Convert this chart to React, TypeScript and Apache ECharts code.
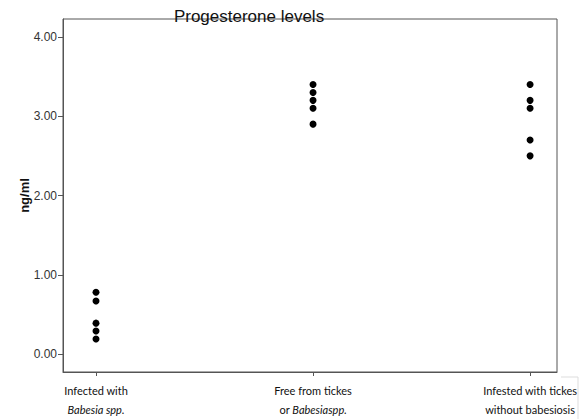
import React, { useEffect, useRef } from "react";
import * as echarts from "echarts";

const categories = [
  "Infected with\n{i|Babesia spp.}",
  "Free from tickes\nor {i|Babesiaspp.}",
  "Infested with tickes\nwithout babesiosis",
];
const infectedValues = [0.78, 0.67, 0.39, 0.29, 0.19];
const freeValues = [3.4, 3.3, 3.2, 3.1, 2.9];
const infestedValues = [3.4, 3.2, 3.1, 2.7, 2.5];
const yTicks = [0, 1, 2, 3, 4];
const groups = [infectedValues, freeValues, infestedValues];

export default function App() {
  const ref = useRef<HTMLDivElement>(null);
  useEffect(() => {
    if (!ref.current) return;
    const chart = echarts.init(ref.current, null, { renderer: "svg" });
    const data: number[][] = [];
    groups.forEach((g, i) => g.forEach((v) => data.push([i, v])));
    chart.setOption({
      animation: false,
      backgroundColor: "#fff",
      title: {
        text: "Progesterone levels",
        left: 244,
        textAlign: "center",
        top: 3,
        textStyle: {
          fontFamily: "Liberation Sans",
          fontSize: 17,
          fontWeight: "normal",
          color: "#111",
        },
      },
      grid: {
        left: 63,
        top: 19,
        right: 27,
        bottom: 46,
        show: true,
        borderColor: "#555",
        borderWidth: 1,
        backgroundColor: "transparent",
      },
      xAxis: {
        type: "value",
        min: -0.152,
        max: 2.124,
        splitLine: { show: false },
        axisLine: { show: true, onZero: false, lineStyle: { color: "#555", width: 1 } },
        axisTick: {
          show: true,
          customValues: [0, 1, 2],
          length: 4,
          inside: false,
          lineStyle: { color: "#555" },
        },
        axisLabel: {
          customValues: [0, 1, 2],
          formatter: (v: number) => categories[Math.round(v)],
          margin: 9,
          fontFamily: "Lato",
          fontSize: 11,
          lineHeight: 19,
          color: "#111",
          rich: {
            i: {
              fontFamily: "Lato",
              fontSize: 11,
              fontStyle: "italic",
              lineHeight: 19,
              color: "#111",
            },
          },
        },
      },
      yAxis: {
        type: "value",
        min: -0.226,
        max: 4.226,
        name: "ng/ml",
        nameLocation: "middle",
        nameGap: 32,
        nameMoveOverlap: false,
        nameRotate: 90,
        nameTextStyle: {
          fontFamily: "Liberation Sans",
          fontSize: 13,
          fontWeight: "bold",
          color: "#111",
        },
        splitLine: { show: false },
        axisLine: { show: true, onZero: false, lineStyle: { color: "#555", width: 1 } },
        axisTick: {
          show: true,
          customValues: yTicks,
          length: 5,
          lineStyle: { color: "#555" },
        },
        axisLabel: {
          customValues: yTicks,
          formatter: (v: number) => v.toFixed(2),
          margin: 6,
          fontFamily: "Liberation Sans",
          fontSize: 12,
          color: "#333",
        },
      },
      series: [
        {
          type: "scatter",
          data,
          symbol: "circle",
          symbolSize: 7,
          itemStyle: { color: "#000", opacity: 1 },
        },
      ],
      graphic: [
        {
          type: "polyline",
          shape: { points: [[561, 377], [578, 377], [578, 419]] },
          style: { stroke: "#ddd", fill: "none", lineWidth: 1 },
        },
      ],
    });
    return () => chart.dispose();
  }, []);
  return (
    <div
      ref={ref}
      style={{ position: "absolute", left: 0, top: 0, width: 584, height: 419 }}
    />
  );
}
